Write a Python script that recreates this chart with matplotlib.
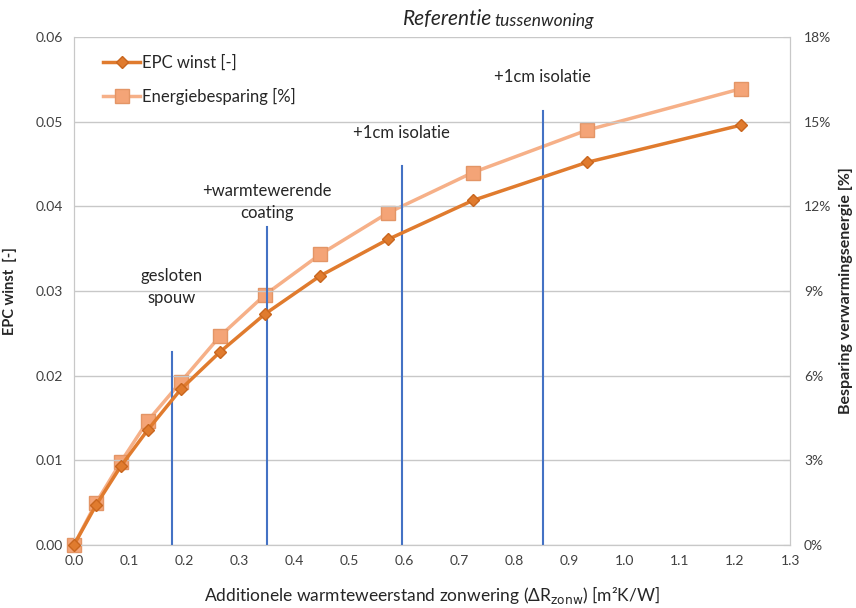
import numpy as np
import matplotlib.pyplot as plt
from matplotlib.ticker import FuncFormatter, MultipleLocator

plt.rcParams['font.family'] = ['Lato', 'DejaVu Sans']

# data
r_zonw = [0.0, 0.04, 0.085, 0.134, 0.194, 0.265, 0.347, 0.447, 0.570, 0.724, 0.931, 1.211]
epc_winst = [0.0, 0.0047, 0.0093, 0.0136, 0.0184, 0.0228, 0.0273, 0.0318, 0.0361, 0.0407, 0.0452, 0.0496]
besparing = [0.0, 1.49, 2.94, 4.40, 5.78, 7.40, 8.87, 10.3, 11.77, 13.2, 14.7, 16.17]

# vertical markers: x position, top (EPC units), label
mark_x = [0.178, 0.350, 0.595, 0.851]
mark_top = [0.0228, 0.0376, 0.0448, 0.0513]
mark_labels = ['gesloten\nspouw', '+warmtewerende\ncoating', '+1cm isolatie', '+1cm isolatie']
label_y = [0.0305, 0.0405, 0.0487, 0.0553]

fig = plt.figure(figsize=(8.56, 6.08), dpi=100)
ax = fig.add_axes([0.0864, 0.1036, 0.8366, 0.8354])
ax2 = ax.twinx()

grid_c = '#c8c8c8'
ax.set_xlim(0, 1.3)
ax.set_ylim(0, 0.06)
ax2.set_ylim(0, 18)
ax.xaxis.set_major_locator(MultipleLocator(0.1))
ax.yaxis.set_major_locator(MultipleLocator(0.01))
ax2.yaxis.set_major_locator(MultipleLocator(3))
ax.xaxis.set_major_formatter(FuncFormatter(lambda v, p: f'{v:.1f}'))
ax.yaxis.set_major_formatter(FuncFormatter(lambda v, p: f'{v:.2f}'))
ax2.yaxis.set_major_formatter(FuncFormatter(lambda v, p: f'{v:.0f}%'))
ax.yaxis.grid(True, color=grid_c, lw=1)
ax.set_axisbelow(True)

for a in (ax, ax2):
    a.spines['top'].set_visible(False)
    for s in ('left', 'right', 'bottom'):
        a.spines[s].set_color(grid_c)
    a.tick_params(colors='#404040', labelsize=10, length=0, pad=8)
ax.tick_params(axis='x', length=0, pad=7)
ax2.tick_params(axis='y', length=5, color=grid_c, direction='in', pad=10)

for x, top, lab, ly in zip(mark_x, mark_top, mark_labels, label_y):
    ax.plot([x, x], [0, top], color='#4472c4', lw=1.5, zorder=2)
    ax.text(x, ly, lab, ha='center', va='center', fontsize=12, color='#262626',
            linespacing=1.5)

l1, = ax.plot(r_zonw, epc_winst, color='#e07b2e', lw=2.5, marker='D', ms=6.5,
              mfc='#e07b2e', mec='#c9661e', zorder=4, label='EPC winst [-]', clip_on=False)
l2, = ax2.plot(r_zonw, besparing, color='#f6b088', lw=2.5, marker='s', ms=9.5,
               mfc='#f4a477', mec='#e39566', zorder=3, label='Energiebesparing [%]',
               clip_on=False)
ax.set_zorder(ax2.get_zorder() + 1)
ax.patch.set_visible(False)

ax.legend(handles=[l1, l2], loc='upper left', bbox_to_anchor=(0.02, 0.995), frameon=False,
          fontsize=12, handlelength=2.2, handletextpad=0.1, labelspacing=1.0,
          labelcolor='#262626')

ax.set_ylabel('EPC winst  [-]', fontsize=10.5, fontweight='bold', color='#262626')
ax.yaxis.set_label_coords(-0.079, 0.5)
ax2.set_ylabel('Besparing verwarmingsenergie [%]', fontsize=11.5, fontweight='bold',
               color='#262626', rotation=90)
ax2.yaxis.set_label_coords(1.068, 0.5)
ax.set_xlabel('Additionele warmteweerstand zonwering (ΔR$_{\\mathrm{zonw}}$) [m²K/W]',
              fontsize=12.5, color='#262626')
ax.xaxis.set_label_coords(0.5, -0.098)
ax.xaxis.label.set_va('center')

fig.text(0.575, 0.968, 'Referentie', style='italic', fontsize=15, ha='right', va='center',
         color='#262626')
fig.text(0.578, 0.966, 'tussenwoning', style='italic', fontsize=12.5, ha='left', va='center',
         color='#262626')

fig.savefig('out.png', dpi=100)
